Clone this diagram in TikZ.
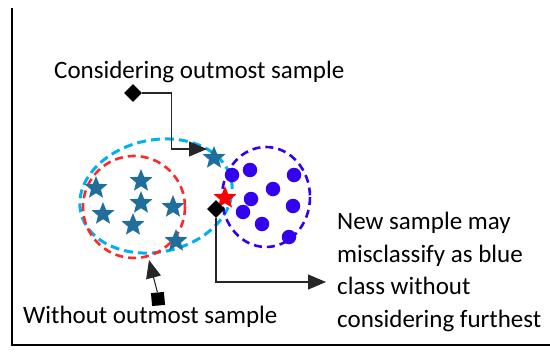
\documentclass[tikz,border=0pt]{standalone}
\usepackage{fontspec}
\setmainfont{Carlito}
\usetikzlibrary{arrows.meta,shapes.geometric}
\definecolor{starblue}{RGB}{31,110,155}
\definecolor{dotblue}{RGB}{51,0,240}
\definecolor{ringcyan}{RGB}{0,176,240}
\definecolor{ringred}{RGB}{255,40,40}

\begin{document}
\begin{tikzpicture}[x=1pt,y=-1pt,
  font=\fontsize{25}{32.5}\selectfont, >={Triangle[length=18pt,width=15pt]},
  sstar/.style={star,star points=5,star point ratio=2.3,minimum size=24pt,inner sep=0pt,fill=starblue},
  sdot/.style={circle,minimum size=14.5pt,inner sep=0pt,fill=dotblue},
  mark box/.style={fill=black,inner sep=0pt},
  ring/.style={line width=2.6pt,dash pattern=on 8pt off 5pt},
  link/.style={line width=1.1pt,draw=black!85}]
  \useasboundingbox (0,0) rectangle (550,356);
  % axes
  \draw[line width=2.8pt] (12,8) |- (550,345);
  % class regions
  \coordinate (cyanc) at (156,196);
  \draw[ring,draw=ringcyan,line width=3pt,dash pattern=on 9pt off 5pt,rotate around={12:(cyanc)}]
    (cyanc) ellipse (77 and 56);
  \draw[ring,draw=ringred] (134,207) circle (51);
  \draw[ring,draw=dotblue] (266,197) ellipse (44 and 50);
  % samples
  \foreach \p [count=\i] in {(96,188),(141,181),(141,203),(103,214),(173,207),(133,225),(176,241),(214,158)}
    \node[sstar] (s\i) at \p {};
  \foreach \p [count=\i] in {(232,175),(250,170),(294,175),(273,189),(251,199),(293,206),(243,212),(262,224),(289,237)}
    \node[sdot] (b\i) at \p {};
  \node[sstar,fill=red] (newst) at (225,198) {};
  % markers and pointers
  \node[mark box,diamond,minimum size=18pt] (dtop) at (133,93) {};
  \node[mark box,diamond,minimum size=18pt] (dnew) at (216,209) {};
  \node[mark box,minimum size=13pt,rotate=5] (sq) at (158,299) {};
  \coordinate (tiptop) at (207,149);
  \coordinate (tipnew) at (326,282);
  \coordinate (tipred) at (149,260);
  \draw[link,->] (dtop.east) -- ++(29,0) |- (tiptop);
  \draw[link,->] (dnew.south) |- (tipnew);
  \draw[link,->] (sq.north) -- (tipred);
  % labels
  \node[anchor=base west,inner sep=0pt] (lbltop) at (54,78) {Considering outmost sample};
  \node[anchor=base west,inner sep=0pt] (lblbot) at (23,323) {Without outmost sample};
  \node[anchor=base west,inner sep=0pt,align=left] (lblnew) at (337,327)
    {New sample may\\misclassify as blue\\class without\\considering furthest};
\end{tikzpicture}
\end{document}
